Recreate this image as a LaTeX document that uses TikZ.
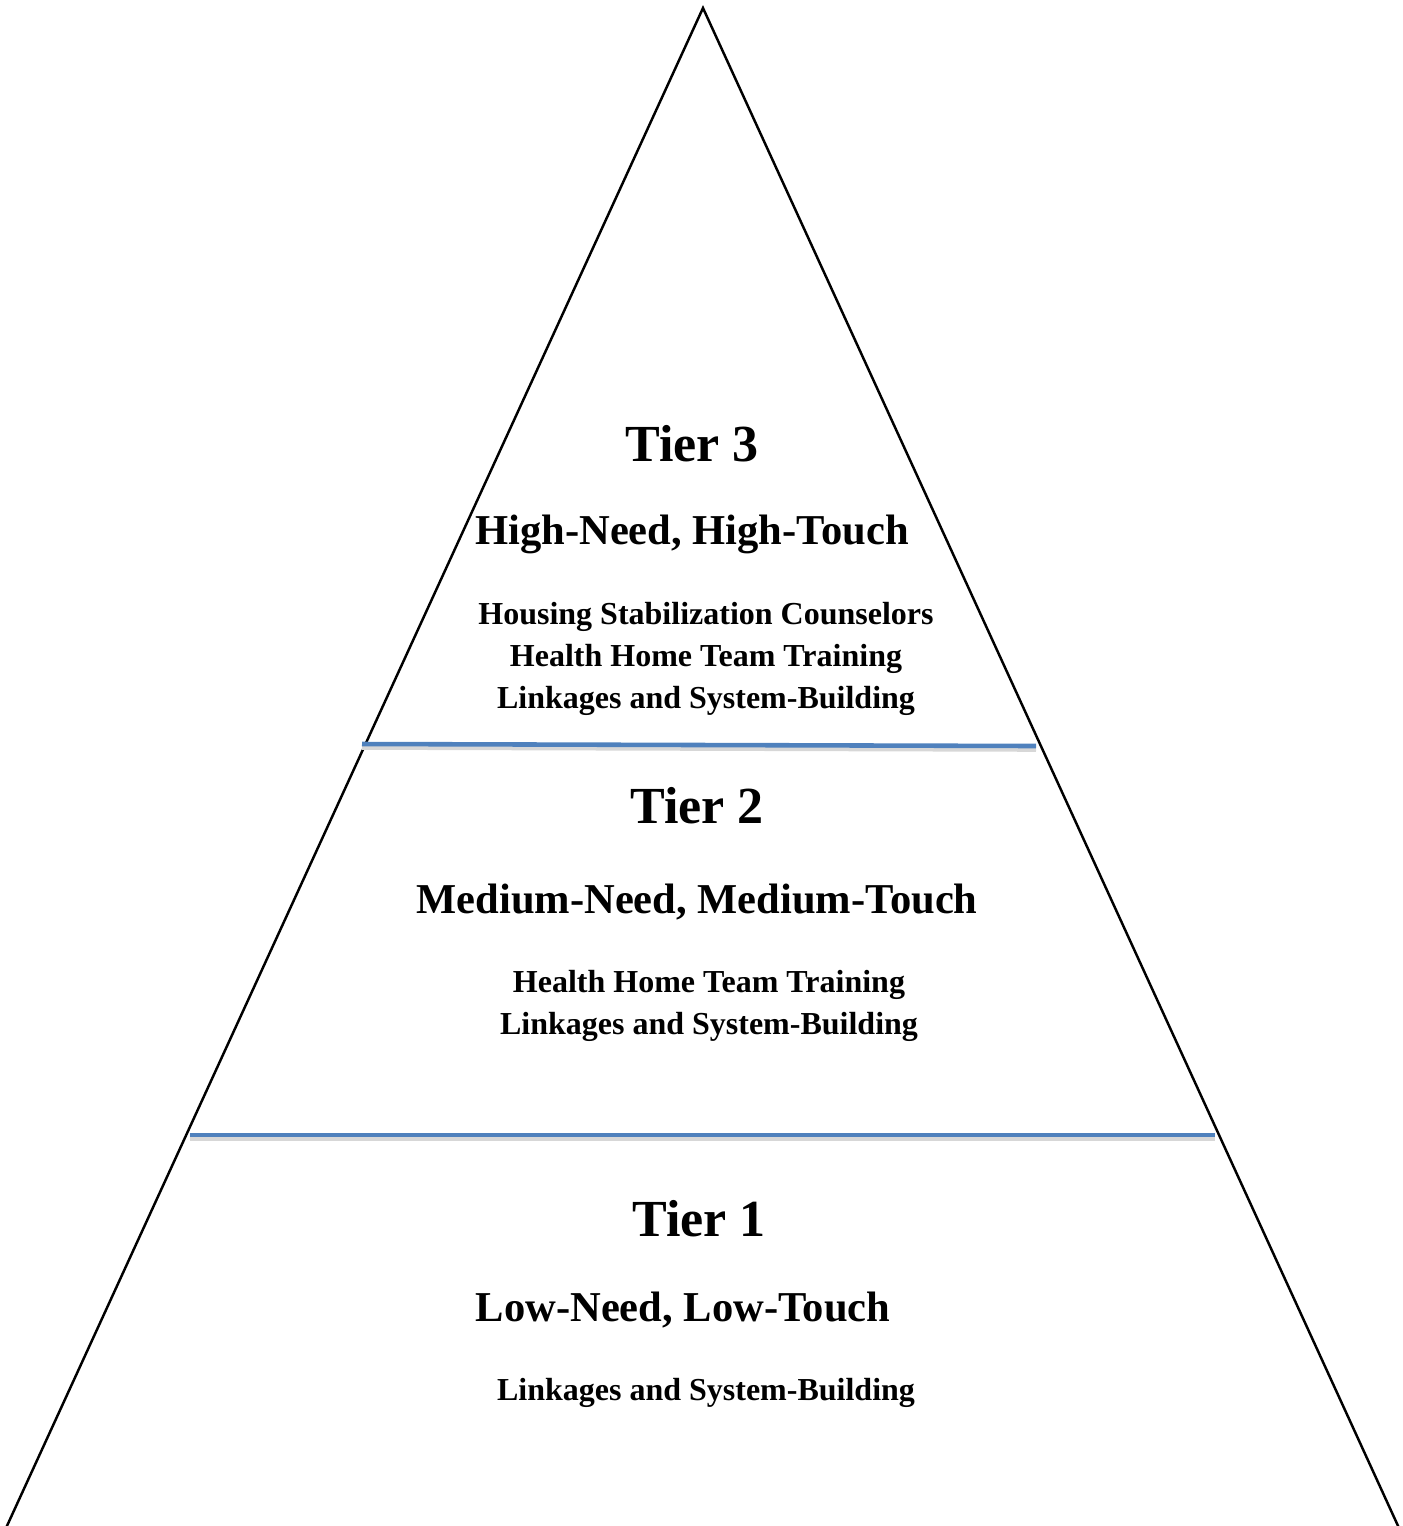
\documentclass[tikz,border=0pt]{standalone}
\usepackage{fontspec}
\setmainfont{Liberation Serif}
\usepackage{xcolor}
\definecolor{tierblue}{RGB}{79, 129, 189}
\definecolor{shadowgray}{RGB}{215, 215, 215}
\usetikzlibrary{positioning}

\begin{document}
\begin{tikzpicture}[x=0.01cm, y=-0.01cm,
    tiertitle/.style={font=\fontsize{14.8}{17}\selectfont\bfseries, inner sep=0pt},
    tierneed/.style={font=\fontsize{12.1}{14}\selectfont\bfseries, inner sep=0pt},
    tieritem/.style={font=\fontsize{9.1}{12}\selectfont\bfseries, inner sep=0pt, align=center},
    divider/.style={tierblue, line width=1.3pt},
    dividershadow/.style={shadowgray, line width=1.3pt}]
    \useasboundingbox (0,0) rectangle (1403,1526);

    % pyramid outline
    \coordinate (apex) at (703,8);
    \coordinate (baseleft) at (6,1528);
    \coordinate (baseright) at (1399,1528);
    \draw[line width=0.7pt] (baseleft) -- (apex) -- (baseright);

    % tier dividers
    \coordinate (div3l) at (362,744);
    \coordinate (div3r) at (1036,746);
    \coordinate (div2l) at (190,1135);
    \coordinate (div2r) at (1215,1135);
    \draw[dividershadow] ([yshift=-0.035cm]div3l) -- ([yshift=-0.035cm]div3r);
    \draw[dividershadow] ([yshift=-0.035cm]div2l) -- ([yshift=-0.035cm]div2r);
    \draw[divider] (div3l) -- (div3r);
    \draw[divider] (div2l) -- (div2r);

    % Tier 3
    \node[tiertitle] (t3) at (692,444) {Tier 3};
    \node[tierneed] (n3) at (692,534) {High-Need, High-Touch};
    \node[tieritem] (i3) at (706,659) {Housing Stabilization Counselors\\Health Home Team Training\\Linkages and System-Building};

    % Tier 2
    \node[tiertitle] (t2) at (697,806) {Tier 2};
    \node[tierneed] (n2) at (697,902) {Medium-Need, Medium-Touch};
    \node[tieritem] (i2) at (709,1006) {Health Home Team Training\\Linkages and System-Building};

    % Tier 1
    \node[tiertitle] (t1) at (699,1219) {Tier 1};
    \node[tierneed] (n1) at (683,1310) {Low-Need, Low-Touch};
    \node[tieritem] (i1) at (706,1393) {Linkages and System-Building};
\end{tikzpicture}
\end{document}
